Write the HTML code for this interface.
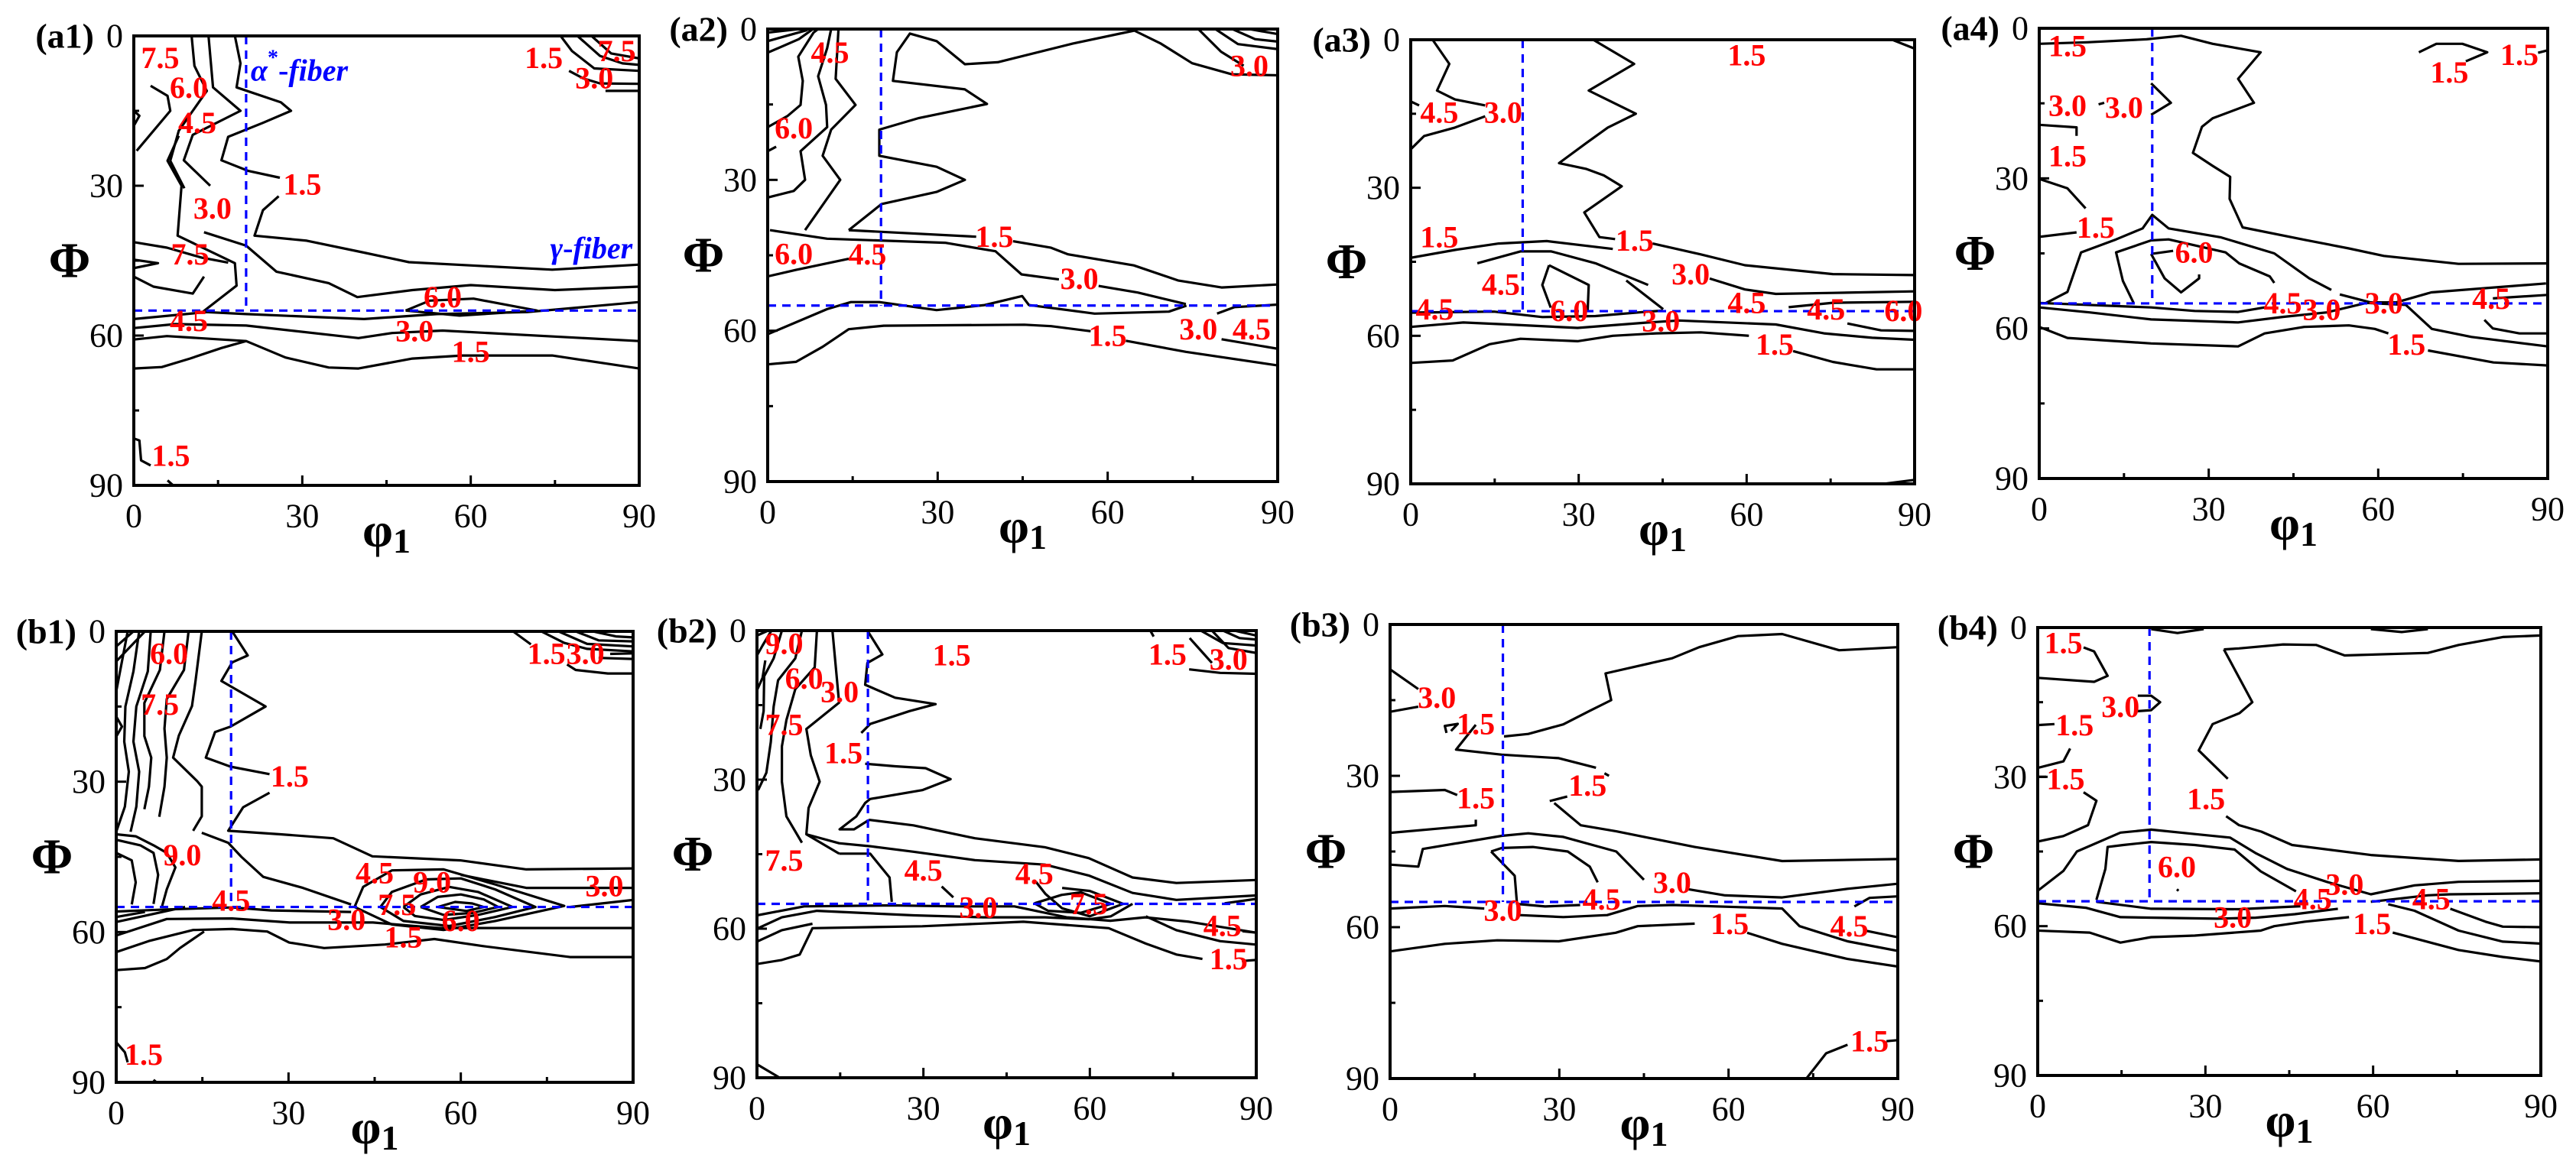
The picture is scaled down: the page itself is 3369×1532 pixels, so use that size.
<!DOCTYPE html>
<html><head><meta charset="utf-8"><title>ODF sections</title>
<style>
html,body{margin:0;padding:0;background:#fff;}
svg{display:block;}
text{font-family:"Liberation Serif","DejaVu Serif",serif;}
</style></head>
<body>
<svg id="fig" xmlns="http://www.w3.org/2000/svg" width="3369" height="1532" viewBox="0 0 3369 1532"></svg>
<script>
// ---- shared axis data ----
const majorTicks = [0, 30, 60, 90];
const minorTicks = [15, 45, 75];
const alphaFiberPhi1 = 20;
const gammaFiberPhi = 55;

// ---- panel a1 ----
const a1Lines = [
 [[18,0],[19,5.5],[18.3,10.3],[26.2,13.3],[28,15],[23,17.4],[16.8,20.2],[15.6,24.9],[20.3,27],[26,28.4]],
 [[25.8,32.1],[23,34.9],[21.5,40],[30.8,41],[41,43.4],[49,45.3],[74.5,46.8],[90,45.8]],
 [[13.3,0],[14.1,10.3],[19,15],[10.5,19.8],[8.9,24.9],[13.6,30]],
 [[12.5,39.3],[20,42],[25.4,47.2],[34.7,49.5],[39.8,52.3],[49.6,50.9],[60,49.9],[75,50.9],[90,50.2]],
 [[10.3,0],[10.8,6],[13,11],[10.5,15],[8,19],[6.5,25],[9,30.5]],
 [[3,10],[6,12],[6.5,15],[0.5,23]],
 [[8,20],[6,25],[8.5,30],[7.8,40],[18,45.5],[18.3,50],[12,55.5]],
 [[0,41.3],[5.9,42.4],[12.1,44.4],[16.8,45.4]],
 [[0,44.8],[4.3,45.5],[0,46.5]],
 [[0,48.2],[3.5,50.2],[10.5,51.6],[12.5,48.2]],
 [[0,15],[1,16],[0,18]],
 [[0,56.7],[12.9,55.3],[20,55.7],[41,56.7],[54,55.7],[70,55.3],[90,53.3]],
 [[48.4,55],[52.7,53],[60.5,52.6],[71.8,55],[58,56],[48.4,55]],
 [[0,58.5],[7.4,57.7],[20,58],[40,60.5],[46,59.5],[55,59],[90,61.1]],
 [[0,60.8],[5.9,60.1],[20,61.1],[27,64.4],[34.7,66.4],[40,66.6],[49.6,64.6],[58.5,64],[74.5,64],[90,66.6]],
 [[0,66.6],[5,66.3],[10,64.6],[15.6,62.5],[20,61.1]],
 [[76,0],[78,3],[82,6.5],[90,7]],
 [[79,0],[83,4],[87,5.5],[90,5.8]],
 [[81.5,0],[85,3.5],[90,4.5]],
 [[77.5,7],[80,8.5],[83,9.5],[90,9.6]],
 [[84,11],[90,11]],
 [[0,80.6],[1,81],[1.3,85],[3,86]],
 [[6,89],[7,90]]
];
const a1Labels = [[4.7,4.4,"7.5"],[9.8,10.3,"6.0"],[11.3,17.4,"4.5"],[30,29.7,"1.5"],[14,34.5,"3.0"],[10,43.7,"7.5"],[55,52.3,"6.0"],[9.8,57,"4.5"],[50,59.1,"3.0"],[60,63.2,"1.5"],[73,4.4,"1.5"],[86,3,"7.5"],[82,8.4,"3.0"],[6.6,84,"1.5"]];

// ---- panel a2 ----
const a2Lines = [
 [[0,0.7],[5.6,0]],[[0,2.4],[7,0.2]],[[0,4.7],[5.5,2],[8,0]],
 [[0,19.5],[3.5,17.3],[5.8,15.1],[6.2,10.3],[5.4,5.5],[8.1,0.7],[8.9,0]],
 [[0,24.3],[1.5,23.4]],
 [[0,33.5],[4.6,32.2],[6.6,30],[5.8,24.3],[10.5,19.5],[10.3,15.1],[8.9,9.4],[10.5,3.8],[11.2,0]],
 [[6.6,40],[12.8,30],[9.7,25.2],[11.2,20],[15.5,15.1],[12,9.9],[12.5,0]],
 [[14.3,40],[20.1,34.8],[29.8,32.4],[34.8,30],[29.8,27.4],[19.7,25.2],[19.7,20],[26.7,17.7],[38.7,14.9],[34.8,12],[22.1,10.3],[22.8,4.6],[25.1,0.9],[29.8,2.4],[34.8,7],[40.6,6.6],[53.8,2.9],[64.7,0.3],[69.4,2.9],[74.9,6.8],[81.9,9],[90,9.2]],
 [[14.3,40],[36.8,41.3]],
 [[43.3,42.2],[50,43.5],[53,44.8],[64.6,47],[72.4,50],[80.1,51.4],[90,50.8]],
 [[0.4,40],[10.5,41.7],[31.3,42.5],[40.2,44.2],[44.8,48.8],[51.4,49.8]],
 [[58.4,51.1],[65.3,52.4],[73.8,54.7]],
 [[0,49.2],[5,47.9],[14.3,45.7]],
 [[0,60.7],[10.5,55.7],[14.7,54.3],[19.7,54.3],[29.8,55.9],[38.3,54.9],[44.9,53.1],[46.1,54.9],[57.7,56.6],[70.8,56.2],[73.9,55]],
 [[0,66.7],[5,66.2],[9.7,63.2],[14.3,59.7],[20.5,59],[45.3,58.8],[50,59.1],[57,60.1]],
 [[63.2,62],[73.8,64.2],[90,66.9]],
 [[79.3,56.6],[82.4,55.3],[90,54.8]],
 [[80.1,61.7],[90,63.6]],
 [[79,0],[83,3],[90,4]],[[82,0],[86,2],[90,2.5]],[[85,0],[90,1]],[[76,0],[80,4.5],[84,7.3]]
];
const a2Labels = [[11,4.6,"4.5"],[4.6,19.7,"6.0"],[4.6,44.7,"6.0"],[17.6,44.8,"4.5"],[40,41.3,"1.5"],[55,49.6,"3.0"],[60,61,"1.5"],[76,59.7,"3.0"],[85.4,59.7,"4.5"],[85,7.3,"3.0"]];

// ---- panel a3 ----
const a3Lines = [
 [[3.9,0],[6.9,4.9],[4.7,10.3],[7.9,12.1],[13.3,13.3]],
 [[0,12.5],[1.5,13.3]],
 [[0,22.2],[2.4,19.5],[7.9,17.8],[13.3,15.5]],
 [[32.6,0],[39.9,4.9],[31.8,10.3],[40.2,15],[35.2,17.8],[31.4,20.9],[26.5,25],[31.4,26.2],[34.5,27.5],[37.7,29.7],[31,35],[33.7,40],[36.5,40.4]],
 [[43.2,41.3],[51.8,43.5],[59.7,45.7],[75.4,47.5],[90,47.7]],
 [[0,44.2],[7.9,42.6],[15.7,41.3],[24.3,40.8],[36.1,42.4]],
 [[11.9,45.3],[19.6,42.9],[25.1,42.9],[33,45.3],[42.4,49.7]],
 [[53.4,48.4],[59.7,50.6],[65.2,51.5],[75.4,51.3],[90,51]],
 [[24.7,45.7],[31.8,49.7],[31.6,55]],
 [[24.7,45.7],[23.5,49.7],[25,54.3]],
 [[0,55.3],[14.9,55.1],[23.5,56.2],[33,56],[42.4,55.1],[45,54.9]],
 [[38.5,48.8],[45.1,54.6]],
 [[67.5,54.2],[75.4,53.3],[90,53.1]],
 [[0,58.2],[9.4,57.3],[17.3,57.7],[29.8,58.4],[42.4,57.3],[47.9,56.9],[65.2,57.7],[73.8,59.5],[82.4,60.4],[90,60.8]],
 [[0,65.5],[7.5,65],[14.1,61.7],[19.6,60.6],[29.8,61.1],[36.1,60],[43.9,59.5],[51.8,59.3],[60.4,60]],
 [[68.3,63.1],[75.4,65.3],[83.2,66.8],[90,66.8]],
 [[78,57.5],[84,58.9],[90,59]],
 [[86,0],[90,1.8]],
 [[84.5,90],[90,89.2]]
];
const a3Labels = [[5.1,14.7,"4.5"],[16.5,14.7,"3.0"],[60,3.1,"1.5"],[5.1,40,"1.5"],[40,40.7,"1.5"],[16.1,49.6,"4.5"],[50,47.5,"3.0"],[4.3,54.6,"4.5"],[28.3,54.9,"6.0"],[44.7,57,"3.0"],[60,53.3,"4.5"],[74.2,54.6,"4.5"],[88,54.9,"6.0"],[65,61.7,"1.5"]];

// ---- panel a4 ----
const a4Lines = [
 [[0,3.1],[8.5,2.8],[19,2.2],[25.1,1.5],[30.7,3.1],[39.2,4.8],[35.2,10.1],[38,14.9],[30.7,18],[28.8,19.7],[27.2,24.9],[30.7,27.5],[33.8,29.7],[33.7,34.1],[36,39.8],[47,42.3],[54.8,44],[61,45.5],[74.2,47.1],[90,47]],
 [[19.8,11],[23.3,14.9],[19.8,17.3]],
 [[10.5,15.2],[11.5,14.9]],
 [[0,19.3],[6.6,19.8],[6.6,21.5]],
 [[0,30.1],[5,32],[8.2,36]],
 [[0,41.7],[6.6,40.8]],
 [[1.2,54.9],[5,52.7],[7.4,44.8],[13.6,42.2],[18.3,40],[20,37.3],[22.9,40],[32.2,41.8],[41.6,45],[47.8,50],[51.7,52.3]],
 [[16.7,54.9],[14.8,50.5],[13.6,44.8],[19.8,42.4],[22.9,42.2],[33,44.8],[35.4,47],[40.8,49.6],[41.6,50.9]],
 [[19.8,45.1],[23.7,44.5]],
 [[19.8,45.1],[22.2,50],[25.1,52.8],[28.3,50],[28.3,49.2]],
 [[0,54.9],[19.8,55.8],[27.5,56.5],[35.2,56.7],[39.9,55.8]],
 [[53.2,53.2],[58.6,54.8],[63.2,54.8],[69.4,52.8],[89.7,51]],
 [[78.8,58.3],[80.3,60],[85,61],[90,61]],
 [[80.3,54],[90,53.3]],
 [[0,55.8],[8.9,56.8],[19.8,58.2],[35.2,58.8],[43.1,57.7],[50.9,56.8],[57.9,54.9],[64.9,55.3],[69.5,60.1],[76.5,61.7],[90,63.6]],
 [[0,59.7],[5,61.9],[19.8,63],[35.2,63.6],[39.9,61],[46.9,59.7],[54.8,59.4],[59.4,60.1],[61.8,61]],
 [[68.8,64.4],[80.4,66.8],[90,67.4]],
 [[67.2,4.8],[70.3,3.1],[74.9,3.1],[79.3,4.8],[75.5,6.6]],
 [[88.3,4.9],[90,4.4]]
];
const a4Labels = [[5,3.5,"1.5"],[5,15.4,"3.0"],[15,15.8,"3.0"],[5,25.5,"1.5"],[10,39.8,"1.5"],[27.4,44.8,"6.0"],[43.1,54.9,"4.5"],[50,56.2,"3.0"],[61,54.9,"3.0"],[80,54,"4.5"],[65,63.2,"1.5"],[72.6,8.8,"1.5"],[85,5.3,"1.5"]];

// ---- panel b1 ----
const b1Lines = [
 [[14.9,0],[13.8,9.9],[13.2,14.9],[10.9,20.8],[9.9,25.2],[14.1,29.9],[14.9,31],[14.9,36.9],[13.4,39.8]],
 [[12.6,0],[11.8,7.7],[8.8,13.5],[8.4,19.4],[8.8,25.2],[8.4,31],[7.5,37]],
 [[8.4,0],[7.6,7.7],[4.9,14.3],[4.9,20.9],[6.1,25.2],[5.7,31],[4.9,35.5]],
 [[6,0],[5.5,8],[3.5,15],[3,22],[4,28],[3.5,35],[2.5,40]],
 [[4,0],[3,8],[1.6,15],[1.4,22],[2.2,28],[1.5,35],[0,40]],
 [[2,0],[1,6],[0,12]],
 [[0,3],[3,0]],[[0,6],[5,0]],[[0,17],[1,19],[0,21]],
 [[20.2,0],[22.9,4.8],[20.2,6.2],[18.3,9.9],[26,15],[19.9,19],[17.2,20.1],[15.6,25.2],[19.9,27],[26.7,28.5]],
 [[26.7,32.2],[22.1,35.1],[19.5,39.8],[28.6,40.5],[37.8,41.3],[44.6,44.9],[59.9,45.7],[71.4,47.5],[90,47.3]],
 [[14.9,40.2],[19.5,42.2],[21.8,45],[25.6,49],[32.5,51.2],[40.9,54.5]],
 [[41.5,55],[43,51],[48,47.7],[57,47.5],[66,50.5],[78,54.8],[66,57.8],[57,59.6],[48,58.5],[41.5,55]],
 [[46,55],[48,52],[54,49.5],[60,49.3],[66,51.5],[73,55],[66,57],[58,58.8],[50,57.8],[46,55]],
 [[50,55],[53,52.5],[58,51],[63,52],[69,55],[63,56.6],[57,57.6],[52,56.8],[50,55]],
 [[53,55],[56,53],[60,52.5],[64,53.5],[66.5,55],[62,56.2],[57,56.6],[53,55]],
 [[56,55],[59,54],[62,54.3],[64,55],[61,55.8],[56,55]],
 [[60,48.6],[71.4,51.2],[90,51.2]],
 [[79,55],[90,53.6]],
 [[0,55.9],[8.8,55.5],[20.2,55.1],[27,55.7],[40.9,56]],
 [[0,60.7],[8.8,57.4],[20.2,57.3],[30.2,58.1],[44.7,58.1],[56.2,59.2],[90,59.2]],
 [[0,64],[5.7,61.8],[13.4,59.6],[20.2,59.4],[26.3,59.9],[30.1,62.1],[36.2,63.2],[46.8,62.5],[55.4,61.4],[63.8,62.8],[79,65],[90,65]],
 [[0,67.6],[5,67.2],[8.8,65.4],[11.1,63.2],[13.4,61.4],[15.3,59.9]],
 [[0,58],[6,56.5],[12,55]],[[0,57],[5,56]],
 [[0,40.5],[3.4,40.9],[6.5,42.7],[8.8,44.2],[10.3,47.1],[8.8,51.5],[8,54.8]],
 [[0,41.6],[4.2,42.7],[6.5,44.2],[7.3,48.6],[6.5,54.4]],
 [[0,44.2],[2.7,45.7],[3.4,50.1],[2.7,54.5]],
 [[69.1,0],[72.2,2.6]],
 [[77,0],[82,2.5],[90,3]],[[80,0],[84,1.8],[90,2]],[[83,0],[87,1],[90,1.2]],[[74,0],[78,2.3],[82,3.5],[90,4]],
 [[78.5,6.6],[80,7.7],[85.6,8.4],[90,8.4]],
 [[84,5.3],[90,5.5]],[[86,4.5],[90,4.4]],
 [[0,82],[1.5,84],[2,86]],[[6.5,89.5],[7,90]]
];
const b1Labels = [[9.2,4.4,"6.0"],[7.6,14.6,"7.5"],[30.2,28.9,"1.5"],[11.5,44.6,"9.0"],[45,48.2,"4.5"],[55,50,"9.0"],[85,50.8,"3.0"],[20,53.7,"4.5"],[48.9,54.5,"7.5"],[40.1,57.5,"3.0"],[60,57.7,"6.0"],[50,61,"1.5"],[74.9,4.4,"1.5"],[81.7,4.4,"3.0"],[4.8,84.4,"1.5"]];

// ---- panel b2 ----
const b2Lines = [
 [[13.6,0],[14.8,14.5],[8.9,19.8],[9.7,25.1],[11.3,30.4],[9.3,35.7],[8.9,41],[14.8,44.9]],
 [[10.8,0],[10.4,7.4],[6.9,11.8],[5.3,18],[4.5,23.3],[4.5,30.4],[5.3,37.4],[8.1,42.7]],
 [[8.1,0],[6.9,5.6],[3.8,10],[3,15.3],[2.5,22.4],[1.7,28.6],[0.2,32.1]],
 [[4.5,0],[3,5.6],[1.3,9.2],[1.2,16.2],[0.6,19.8]],
 [[0,1],[2,0]],[[0,5],[1,3],[2.6,0]],[[0,12],[1,9.5],[1.5,6]],
 [[19.9,0],[22.6,4.8],[19.9,6.5],[19.5,10.9],[24.9,13.5],[32.2,14.8],[27.5,16.2],[20.4,18.8],[18.8,20.6]],
 [[19.5,26.8],[24.9,27.3],[30.4,27.7],[34.9,29.9],[29.8,32.1],[20.4,33.9],[19.5,34.7],[17.9,37.4],[14.9,40],[17.5,40],[19.9,38.3],[20.3,38.1],[28.2,39.2],[39.3,41.8],[51.9,43.6],[59.8,45.8],[67.7,49.7],[75.6,50.8],[90,50.2]],
 [[8.9,41],[14.8,42.8],[20.4,43.4],[28.2,44.5],[39.3,46.2],[51.9,47.1],[59.8,49.3],[67.7,52.8],[75.6,54.2],[90,53.3]],
 [[14.8,44.9],[20.4,44.9],[23.9,49.7],[24.3,54.6]],
 [[33.3,51.5],[35.4,53.7]],
 [[50,54.9],[54.9,53.2],[58.4,52.7],[63.8,55],[58.4,56.8],[52.5,56.4],[50,54.9]],
 [[50.3,50.6],[52,53],[55,55.9],[60,57.5],[66,55],[60,52.4],[55,51.8]],
 [[0,57.3],[8.5,55.5],[24.3,55.3],[36.1,55.5],[46.4,55.5],[55.8,57.7],[63.7,58.4],[70,57.7],[77.9,58.6],[90,60.8]],
 [[0,60],[4.5,57.7],[10.8,56.4],[28.2,57.3],[40.8,57.7],[51.9,57.7],[59.8,58.1],[63.8,57.5],[67.7,55]],
 [[0,62.6],[4.5,60.3],[10,59]],
 [[0,67.1],[4.5,66.3],[7.7,65.2],[10,59.9],[29.8,59.5],[48,58.6],[63.4,59.9],[70.1,63],[75.6,65.2],[80.3,66.1]],
 [[87.4,66.5],[90,66.3]],
 [[70.1,57.5],[75.6,60.3],[83.5,62.5],[90,63.2]],
 [[84.3,54.9],[90,54]],
 [[87.5,60.5],[90,60.8]],
 [[70.9,0],[71.5,1.2]],
 [[78,1.5],[80,4],[82,6.5]],
 [[77.9,7.8],[83.5,8.5],[90,8.7]],
 [[80,0],[84,2.5],[90,3]],[[84,0],[87,1.5],[90,1.8]],[[86,0],[90,1]],[[82,0],[85,3.5],[90,4.5]],
 [[0,87.3],[4.1,90]]
];
const b2Labels = [[4.9,2.6,"9.0"],[35.1,4.9,"1.5"],[8.5,9.6,"6.0"],[14.9,12.3,"3.0"],[4.9,18.9,"7.5"],[15.6,24.6,"1.5"],[4.9,46.2,"7.5"],[30,48.2,"4.5"],[50,48.9,"4.5"],[39.9,55.7,"3.0"],[59.8,55,"7.5"],[83.9,59.4,"4.5"],[85,66.1,"1.5"],[74,4.8,"1.5"],[85,5.8,"3.0"]];

// ---- panel b3 ----
const b3Lines = [
 [[0,8.9],[5,12.8]],
 [[0,17.3],[5,16.3]],
 [[10,21.5],[9.7,20.1],[12,19.7],[10.8,21.1]],
 [[15.2,19.9],[11.7,24.8],[19.8,25.8],[29.9,26.5],[36.5,28.4]],
 [[38,29.5],[38.8,30]],
 [[20.2,22.2],[24.5,21.7],[30.7,19.8],[35.4,17.1],[39.2,15],[38.2,9.7],[50,6.7],[54.8,4.5],[61.7,2.3],[69.5,1.9],[79.6,5.1],[90,4.5]],
 [[0,33.2],[9.7,32.8],[11.9,33.8]],
 [[0,41.3],[15.2,39.8],[15.2,38.7]],
 [[28.3,35],[31.4,34.1]],
 [[29.1,35.4],[33.8,39.8],[40.1,41],[54,44.1],[69.5,46.9],[90,46.5]],
 [[0,47.6],[5,48],[5.8,44.5],[19.8,41.9],[24.5,41.4],[30.7,42.1],[40.1,45],[45,50.6]],
 [[52.4,52.4],[59.4,53.7],[69.5,54.1],[81.1,52.4],[90,51.4]],
 [[17.9,45],[19.8,44.3],[25.3,44.1],[31.5,45],[35.4,48],[36.8,51.1]],
 [[17.9,45],[22.1,49.8],[22.5,55.4],[27.5,55.9],[33.7,55.6]],
 [[0,56.3],[9.7,55.8],[16.7,56.3]],
 [[22.9,57.6],[30.7,58],[38.5,57.6],[43.9,55.8],[50.1,55.6],[69.5,56.3],[72.6,59.8],[81.1,62.8],[90,64.7]],
 [[82.3,55.9],[85,54.2],[90,53.9]],
 [[84.3,60.7],[90,62]],
 [[0,64.8],[9.7,63.3],[19,62.6],[29.9,62.8],[40,61.1],[43.9,59.8],[54,59.3]],
 [[63.3,61.1],[69.5,63.3],[81.1,66.3],[90,67.8]],
 [[73.8,90],[77.3,85],[81.1,83.3]],
 [[88,82.6],[90,82.4]]
];
const b3Labels = [[8.3,14.5,"3.0"],[15.2,19.7,"1.5"],[35,31.9,"1.5"],[15.2,34.4,"1.5"],[50,51.1,"3.0"],[37.5,54.5,"4.5"],[20,56.7,"3.0"],[60.2,59.3,"1.5"],[81.4,59.8,"4.5"],[85,82.6,"1.5"]];

// ---- panel b4 ----
const b4Lines = [
 [[20.3,0.3],[25,1.1],[29.7,0.3]],
 [[59.6,0.3],[65.1,0.9],[69.8,0.3]],
 [[8.2,4],[10.1,4.8],[12.5,9.7],[10.1,10.9],[0,10.1]],
 [[33.3,4.4],[38.4,15],[36.1,17.2],[31.3,19.4],[28.8,24.7],[34,30.4]],
 [[33.3,4.4],[36,4.2],[43.9,3.4],[49.8,3.5],[54.9,5.6],[69.8,5.1],[75.3,3.5],[83.2,1.9],[90,1.6]],
 [[17.9,13.7],[20.3,13.7],[21.9,15],[20.3,16.6],[17.9,16.8]],
 [[0,19.6],[3,19.4]],
 [[0,28.2],[4.6,26.9],[5.8,24.3]],
 [[0,30],[1.5,30]],
 [[8.2,33.1],[10.5,34.8],[9,39.7],[4.6,41.9],[0,43]],
 [[33.7,37.9],[36,39.7],[40,41],[45.5,43.7],[59.6,45.7],[75.3,46.9],[90,46.6]],
 [[0,52.9],[4.6,48.9],[7,45],[14.8,41.2],[20.3,40.6],[28.1,41.5],[34.4,42.2],[39.1,45.4],[44.6,48.5],[51.7,51.1],[59.6,53.6],[67.4,51.8],[75.3,51.1],[90,50.9]],
 [[10.5,54.7],[12.1,48.5],[12.5,44.1],[15.3,43.7],[20.3,43.1],[28.1,43.7],[35.2,44.6],[39.9,49],[46.2,53]],
 [[24.9,52.6],[25.2,52.9]],
 [[10.5,55.1],[20.3,56.5],[36,56.6],[47,56]],
 [[59.6,55.1],[69.8,53.8],[73.8,53.6],[90,53.4]],
 [[0,55.4],[8.6,56.3],[14.8,58.2],[32.1,58.5],[39,58.3],[46,57.6],[53.7,56.5]],
 [[73.8,56.5],[80.1,59.1],[83.2,60.1],[90,60.2]],
 [[62.7,55.6],[67.4,56.9],[75.3,60.9],[83.2,63.1],[90,63.5]],
 [[0,60.9],[9.3,61.3],[14.8,63.3],[20.3,62.2],[28.1,61.9],[39.9,60.9],[42.3,60],[47.8,59.1],[55.7,58.2]],
 [[63.5,61.3],[75.3,64.8],[83.2,66.2],[90,67.1]]
];
const b4Labels = [[4.6,3.1,"1.5"],[14.8,15.9,"3.0"],[6.6,19.6,"1.5"],[5,30.4,"1.5"],[30.1,34.4,"1.5"],[24.9,48.1,"6.0"],[54.9,51.6,"3.0"],[49.2,54.5,"4.5"],[70.4,54.5,"4.5"],[34.9,58.2,"3.0"],[59.8,59.5,"1.5"]];

// ---- panel layout ----
const panels = [
 {id:"a1", box:[175,47,836,635], lines:a1Lines, labels:a1Labels, fiberText:true},
 {id:"a2", box:[1004,38,1671,630], lines:a2Lines, labels:a2Labels},
 {id:"a3", box:[1845,52,2504,633], lines:a3Lines, labels:a3Labels},
 {id:"a4", box:[2667,37,3332,626], lines:a4Lines, labels:a4Labels},
 {id:"b1", box:[152,826,828,1416], lines:b1Lines, labels:b1Labels},
 {id:"b2", box:[990,825,1643,1410], lines:b2Lines, labels:b2Labels},
 {id:"b3", box:[1818,817,2482,1411], lines:b3Lines, labels:b3Labels},
 {id:"b4", box:[2665,821,3323,1407], lines:b4Lines, labels:b4Labels}
];

const NS = "http://www.w3.org/2000/svg";
const svg = document.getElementById("fig");
function mk(tag, attrs, parent, txt){
  const e = document.createElementNS(NS, tag);
  for (const k in attrs) e.setAttribute(k, attrs[k]);
  if (txt !== undefined) e.textContent = txt;
  parent.appendChild(e);
  return e;
}

panels.forEach(p => {
  const [L,T,R,B] = p.box;
  const sx = v => L + v/90*(R-L);
  const sy = v => T + v/90*(B-T);
  const g = mk("g", {}, svg);
  
  

  const clipId = "clip-" + p.id;
  const cp = mk("clipPath", {id: clipId}, g);
  mk("rect", {x:L, y:T, width:R-L, height:B-T}, cp);

  const cg = mk("g", {"clip-path":"url(#"+clipId+")"}, g);
  
  
  p.lines.forEach((ln, i) => {
    const pts = ln.map(q => sx(q[0]).toFixed(1) + "," + sy(q[1]).toFixed(1)).join(" ");
    const pl = mk("polyline", {points: pts, fill:"none", stroke:"#000", "stroke-width":3.2, "stroke-linejoin":"round"}, cg);
    
    
  });

  // fiber dashed lines
  const vd = mk("line", {x1:sx(alphaFiberPhi1), y1:sy(0), x2:sx(alphaFiberPhi1), y2:sy(gammaFiberPhi), stroke:"#0000ff", "stroke-width":3.2, "stroke-dasharray":"11 8"}, g);
  
  
  const hd = mk("line", {x1:sx(0), y1:sy(gammaFiberPhi), x2:sx(90), y2:sy(gammaFiberPhi), stroke:"#0000ff", "stroke-width":3.2, "stroke-dasharray":"11 8"}, g);
  
  

  // contour labels
  p.labels.forEach(lb => {
    const t = mk("text", {x:sx(lb[0]), y:sy(lb[1]), fill:"#ff0000", "font-size":40, "font-weight":"bold", "text-anchor":"middle", "dominant-baseline":"central"}, g, lb[2]);
    
    
  });

  // frame
  const fr = mk("rect", {x:L, y:T, width:R-L, height:B-T, fill:"none", stroke:"#000", "stroke-width":4}, g);
  
  

  // ticks
  majorTicks.forEach(v => {
    const tx = mk("line", {x1:sx(v), y1:B, x2:sx(v), y2:B-13, stroke:"#000", "stroke-width":3}, g);
    
    
    const ty = mk("line", {x1:L, y1:sy(v), x2:L+13, y2:sy(v), stroke:"#000", "stroke-width":3}, g);
    
    
    const xl = mk("text", {x:sx(v), y:B+40, "font-size":44, "text-anchor":"middle", "dominant-baseline":"central", fill:"#000"}, g, String(v));
    
    
    const yl = mk("text", {x:L-14, y:sy(v), "font-size":44, "text-anchor":"end", "dominant-baseline":"central", fill:"#000"}, g, String(v));
    
    
  });
  minorTicks.forEach(v => {
    const tx = mk("line", {x1:sx(v), y1:B, x2:sx(v), y2:B-7, stroke:"#000", "stroke-width":3}, g);
    
    
    const ty = mk("line", {x1:L, y1:sy(v), x2:L+7, y2:sy(v), stroke:"#000", "stroke-width":3}, g);
    
    
  });

  // axis titles
  const yt = mk("text", {x:L-84, y:(T+B)/2, "font-size":66, "font-weight":"bold", "text-anchor":"middle", "dominant-baseline":"central", fill:"#000"}, g, "Φ");
  
  
  const xt = mk("text", {x:(L+R)/2, y:B+58, "font-size":64, "font-weight":"bold", "text-anchor":"middle", "dominant-baseline":"central", fill:"#000"}, g);
  
  
  mk("tspan", {}, xt, "φ");
  mk("tspan", {"font-size":46, dy:14}, xt, "1");

  // panel label
  const pl = mk("text", {x:L-52, y:T, "font-size":46, "font-weight":"bold", "text-anchor":"end", "dominant-baseline":"central", fill:"#000"}, g, "(" + p.id + ")");
  
  

  if (p.fiberText){
    const af = mk("text", {x:sx(alphaFiberPhi1)+6, y:sy(6.8), "font-size":40, "font-weight":"bold", fill:"#0000ff", "dominant-baseline":"central"}, g);
    
    
    mk("tspan", {"font-style":"italic"}, af, "α");
    mk("tspan", {"font-size":28, dy:-16}, af, "*");
    mk("tspan", {dy:16}, af, "-");
    mk("tspan", {"font-style":"italic"}, af, "fiber");
    const gf = mk("text", {x:sx(88.8), y:sy(42.4), "font-size":40, "font-weight":"bold", fill:"#0000ff", "text-anchor":"end", "dominant-baseline":"central"}, g);
    
    
    mk("tspan", {"font-style":"italic"}, gf, "γ");
    mk("tspan", {}, gf, "-");
    mk("tspan", {"font-style":"italic"}, gf, "fiber");
  }
});
</script>
</body></html>
